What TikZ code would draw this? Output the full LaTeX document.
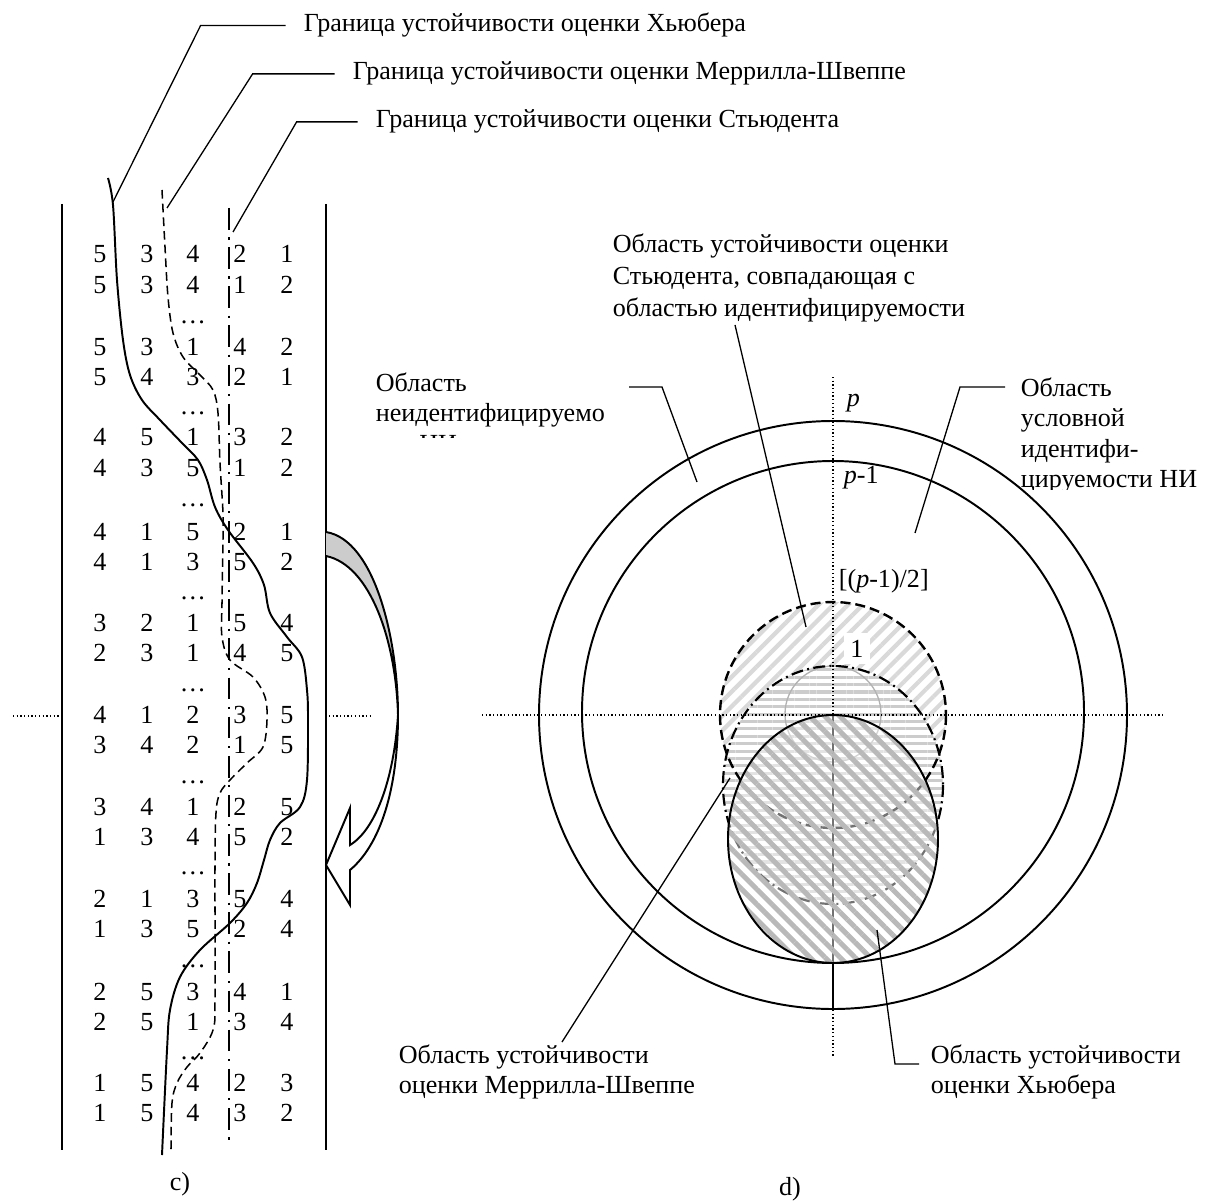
\documentclass[tikz,border=0pt]{standalone}
\usepackage{fontspec}
\setmainfont{Liberation Serif}
\usetikzlibrary{patterns.meta}

\begin{document}
\begin{tikzpicture}[x=0.46pt,y=-0.46pt,thick,
  cell/.style={inner sep=0pt,font=\fontsize{12}{14}\selectfont},
  top text/.style={inner sep=0pt,anchor=base west,font=\fontsize{12}{14}\selectfont},
  area text/.style={inner sep=0pt,anchor=north west,align=left,font=\fontsize{12}{14}\selectfont},
  leader line/.style={line width=0.6pt},
  frame line/.style={line width=0.9pt},
  axis line/.style={line width=0.6pt,dash pattern=on 0.6pt off 1.1pt}]
  \useasboundingbox (0,0) rectangle (1208,1202);

  % c) permutations and stability borders
  \draw[frame line] (62,204) -- (62,1150);
  \draw[frame line] (326,204) -- (326,1150);
  \draw[axis line] (13,716) -- (62,716);
  \draw[axis line] (329,716) -- (373,716);

  \foreach \y/\a/\b/\c/\d/\e in {254/5/3/4/2/1, 285/5/3/4/1/2, 347/5/3/1/4/2, 377/5/4/3/2/1,
      437/4/5/1/3/2, 468/4/3/5/1/2, 532/4/1/5/2/1, 562/4/1/3/5/2, 623/3/2/1/5/4, 653/2/3/1/4/5,
      715/4/1/2/3/5, 745/3/4/2/1/5, 807/3/4/1/2/5, 837/1/3/4/5/2, 899/2/1/3/5/4, 929/1/3/5/2/4,
      992/2/5/3/4/1, 1022/2/5/1/3/4, 1083/1/5/4/2/3, 1113/1/5/4/3/2} {
    \node[cell] (a\y) at (100,\y) {\a};
    \node[cell] (b\y) at (147,\y) {\b};
    \node[cell] (c\y) at (193,\y) {\c};
    \node[cell] (d\y) at (240,\y) {\d};
    \node[cell] (e\y) at (287,\y) {\e};
  }
  \foreach \y in {322,413,505,598,690,782,873,966,1058}
    \node[cell] (dots\y) at (193,\y) {\ldots};

  \draw[line width=0.9pt] plot[smooth,tension=0.55] coordinates {(108,178) (113,205) (117,280)
    (123,340) (130,375) (142,400) (160,420) (182,443) (198,460) (207,480) (215,507) (228,530)
    (253,563) (264,585) (270,613) (287,637) (302,657) (307,690) (308,720) (307,780) (300,807)
    (280,823) (270,840) (264,860) (257,883) (247,903) (230,923) (200,950) (180,977) (170,1010)
    (167,1050) (162,1155)};
  \draw[line width=0.7pt,dash pattern=on 4pt off 2.3pt] plot[smooth,tension=0.55] coordinates {
    (162,190) (165,247) (168,297) (173,333) (183,357) (200,375) (213,390) (218,413) (220,463)
    (223,513) (223,540) (222,603) (222,637) (230,660) (253,677) (265,697) (267,720) (263,747)
    (247,763) (230,780) (220,793) (216,813) (215,867) (215,1000) (213,1030) (200,1053)
    (187,1067) (177,1083) (172,1103) (171,1150)};
  \draw[line width=0.9pt,dash pattern=on 10pt off 3.5pt on 1pt off 3.5pt] (229,208) -- (229,1143);

  \node[top text] (hb bound) at (303,32) {Граница устойчивости оценки Хьюбера};
  \node[top text] (ms bound) at (352,80) {Граница устойчивости оценки Меррилла-Швеппе};
  \node[top text] (st bound) at (375,128) {Граница устойчивости оценки Стьюдента};
  \coordinate (hb end) at (113,202);
  \coordinate (ms end) at (167,208);
  \coordinate (st end) at (233,232);
  \draw[leader line] ([xshift=-8pt]hb bound.west) -- ++(-85,0) -- (hb end);
  \draw[leader line] ([xshift=-8pt]ms bound.west) -- ++(-82,0) -- (ms end);
  \draw[leader line] ([xshift=-8pt]st bound.west) -- ++(-61,0) -- (st end);

  % turning arrow
  \filldraw[fill=gray!40,line width=0.9pt] (326,532) .. controls (375,540) and (398,640) .. (398,715)
    .. controls (396,640) and (370,565) .. (326,556);
  \draw[line width=0.9pt] (398,715) .. controls (398,790) and (380,845) .. (350,870) -- (350,905)
    -- (326,865) -- (350,808) -- (350,845) .. controls (375,830) and (394,780) .. (398,715);

  % d) stability regions
  \fill[white] (833,715) circle [radius=113];
  \path[pattern={Lines[angle=45,distance=4.8pt,line width=1.9pt]},pattern color=gray!30]
    (833,715) circle [radius=113];
  \fill[white] (833,785) ellipse [x radius=110,y radius=119];
  \path[pattern={Lines[angle=0,distance=3.4pt,line width=1.4pt]},pattern color=gray!40]
    (833,785) ellipse [x radius=110,y radius=119];
  \draw[gray!60,line width=0.6pt] (833,714) circle [radius=48];
  \draw[line width=1.1pt,dash pattern=on 4.6pt off 2.3pt] (833,715) circle [radius=113];
  \draw[line width=1pt,dash pattern=on 5.5pt off 2pt on 0.9pt off 2pt]
    (833,785) ellipse [x radius=110,y radius=119];
  \draw[line width=0.6pt] (833,715) -- (833,1010);
  \fill[white,fill opacity=0.45] (833,839) ellipse [x radius=105,y radius=124];
  \path[pattern={Lines[angle=-45,distance=4.9pt,line width=2.3pt]},pattern color=gray!55]
    (833,839) ellipse [x radius=105,y radius=124];
  \draw[line width=0.9pt] (833,839) ellipse [x radius=105,y radius=124];

  \draw[line width=0.9pt] (833,715) circle [radius=294];
  \draw[line width=0.9pt] (833,712) circle [radius=251];
  \draw[axis line] (482,715) -- (1165,715);
  \draw[axis line] (833,377) -- (833,715);
  \draw[axis line] (833,1010) -- (833,1057);

  \node[top text] (p lab) at (846,406) {\textit{p}};
  \node[top text] (p1 lab) at (843,483) {\textit{p}-1};
  \node[top text] (half lab) at (838,587) {[(\textit{p}-1)/2]};
  \node[fill=white,inner xsep=3pt,inner ysep=3pt,anchor=base,font=\fontsize{12}{14}\selectfont]
    (one lab) at (857,657) {1};

  \node[area text,font=\fontsize{12}{14.7}\selectfont] (st area) at (612,233)
    {Область устойчивости оценки\\Стьюдента, совпадающая с\\областью идентифицируемости};
  \coordinate (st tip) at (806,627);
  \draw[leader line] ([shift={(123,2)}]st area.south west) -- (st tip);

  \begin{scope}
    \clip (360,360) rectangle (640,437);
    \node[area text] (ni area) at (375,372) {Область\\неидентифицируемо\\сти НИ};
  \end{scope}
  \coordinate (ni tip) at (697,482);
  \draw[leader line] ([shift={(254,15)}]ni area.north west) -- ++(33,0) -- (ni tip);

  \begin{scope}
    \clip (1000,360) rectangle (1208,489);
    \node[area text] (ci area) at (1020,377) {Область\\условной\\идентифи-\\цируемости НИ};
  \end{scope}
  \coordinate (ci tip) at (915,533);
  \draw[leader line] ([shift={(-15,10)}]ci area.north west) -- ++(-45,0) -- (ci tip);

  \node[area text] (ms area) at (398,1044) {Область устойчивости\\оценки Меррилла-Швеппе};
  \coordinate (ms tip) at (730,778);
  \draw[leader line] ([shift={(164,-2)}]ms area.north west) -- (ms tip);

  \node[area text] (hb area) at (930,1044) {Область устойчивости\\оценки Хьюбера};
  \coordinate (hb tip) at (877,930);
  \draw[leader line] (hb tip) -- ++(18,134) -- ++(24,0);

  \node[top text,anchor=base] (c cap) at (180,1190) {c)};
  \node[top text,anchor=base] (d cap) at (790,1195) {d)};
\end{tikzpicture}
\end{document}
